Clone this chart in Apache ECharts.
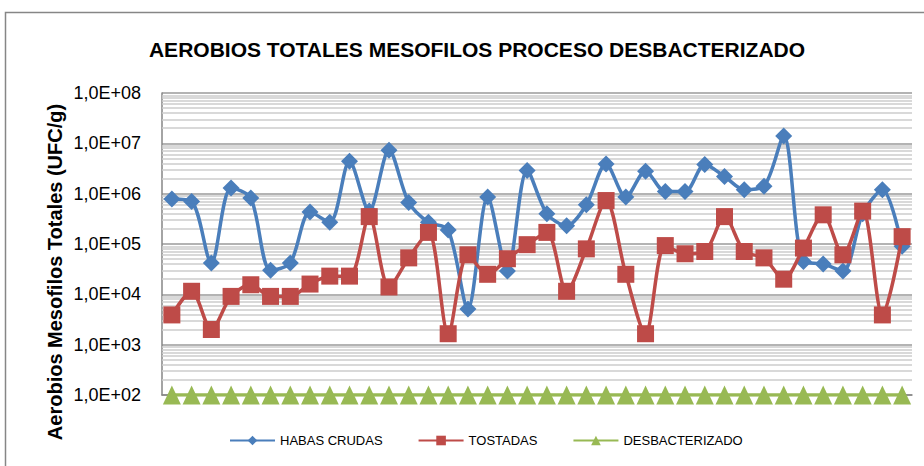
<!DOCTYPE html>
<html>
<head>
<meta charset="utf-8">
<script src="https://cdn.jsdelivr.net/npm/echarts@6/dist/echarts.min.js"></script>
<style>
  html, body { margin: 0; padding: 0; background: #fff; }
  #chart { width: 924px; height: 466px; }
</style>
</head>
<body>
<div id="chart"></div>
<script>
(function () {
  var samples = []
  for (var i = 1; i <= 38; i++) samples.push(String(i))

  var habasCrudas = [7.8e5, 7.0e5, 4.2e4, 1.3e6, 8.2e5, 3.0e4, 4.2e4, 4.3e5, 2.7e5, 4.4e6,
    4.5e5, 7.3e6, 6.7e5, 2.7e5, 1.9e5, 5.1e3, 8.6e5, 2.9e4, 2.9e6, 4.0e5,
    2.3e5, 6.0e5, 3.9e6, 8.6e5, 2.8e6, 1.1e6, 1.1e6, 3.8e6, 2.2e6, 1.2e6,
    1.4e6, 1.4e7, 4.5e4, 4.0e4, 2.9e4, 4.0e5, 1.2e6, 9.0e4]
  var tostadas = [3.9e3, 1.15e4, 2.0e3, 9.1e3, 1.55e4, 9.1e3, 9.1e3, 1.6e4, 2.3e4, 2.3e4,
    3.5e5, 1.4e4, 5.3e4, 1.7e5, 1.65e3, 6.1e4, 2.5e4, 5.1e4, 9.7e4, 1.7e5,
    1.15e4, 8.0e4, 7.3e5, 2.5e4, 1.65e3, 9.3e4, 6.4e4, 7.1e4, 3.5e5, 7.1e4,
    5.3e4, 2.0e4, 8.3e4, 3.8e5, 6.1e4, 4.5e5, 3.9e3, 1.4e5]
  var desbacterizado = samples.map(function () { return 100 })

  // minor gridlines 2..9 x 10^n, like the excel log axis
  var minorLines = []
  for (var e = 2; e < 8; e++) {
    for (var m = 2; m <= 9; m++) minorLines.push({ yAxis: m * Math.pow(10, e) })
  }

  var font = '"Liberation Sans", Arial, sans-serif'
  var myChart = echarts.init(document.getElementById('chart'), null, { renderer: 'svg' })
  var option = {
    animation: false,
    graphic: [{
      type: 'rect',
      z: -10,
      shape: { x: 5.5, y: 12.5, width: 1000, height: 1000 },
      style: { fill: '#fff', stroke: '#868686', lineWidth: 1.5 }
    }, {
      type: 'text',
      x: 55,
      y: 272,
      rotation: Math.PI / 2,
      style: {
        text: 'Aerobios Mesofilos Totales (UFC/g)',
        font: 'bold 20px ' + font,
        fill: '#000',
        align: 'center',
        verticalAlign: 'middle'
      }
    }],
    title: {
      text: 'AEROBIOS TOTALES MESOFILOS PROCESO DESBACTERIZADO',
      left: 472,
      textAlign: 'center',
      top: 34,
      textStyle: {
        fontFamily: font,
        fontWeight: 'bold',
        fontSize: 21,
        color: '#000'
      }
    },
    legend: {
      left: 224,
      top: 429,
      itemWidth: 45,
      itemHeight: 12,
      itemGap: 35,
      textStyle: {
        fontFamily: font,
        fontSize: 13,
        color: '#000'
      },
      data: ['HABAS CRUDAS', 'TOSTADAS', 'DESBACTERIZADO']
    },
    grid: { left: 162, right: 12, top: 93, bottom: 71, containLabel: false },
    xAxis: {
      type: 'category',
      data: samples,
      boundaryGap: true,
      axisLine: { lineStyle: { color: '#868686', width: 1.5 } },
      axisTick: { show: false },
      axisLabel: { show: false }
    },
    yAxis: {
      type: 'log',
      logBase: 10,
      min: 100,
      max: 1e8,
      axisLine: { show: true, lineStyle: { color: '#868686', width: 1.5 } },
      axisTick: { show: false },
      axisLabel: {
        margin: 21,
        fontFamily: font,
        fontSize: 18,
        color: '#000',
        formatter: function (v) {
          var ex = Math.round(Math.log10(v))
          return '1,0E+' + (ex < 10 ? '0' : '') + ex
        }
      },
      splitLine: { lineStyle: { color: '#9a9a9a', width: 1.5 } }
    },
    series: [{
      name: 'HABAS CRUDAS',
      type: 'line',
      data: habasCrudas,
      smooth: 0.3,
      showSymbol: true,
      showAllSymbol: true,
      symbol: 'diamond',
      symbolSize: 17,
      lineStyle: { color: '#4A7EBB', width: 3.5 },
      itemStyle: { color: '#4A7EBB' },
      z: 3
    }, {
      name: 'TOSTADAS',
      type: 'line',
      data: tostadas,
      smooth: 0.3,
      showSymbol: true,
      showAllSymbol: true,
      symbol: 'rect',
      symbolSize: 17,
      lineStyle: { color: '#BE4B48', width: 3.5 },
      itemStyle: { color: '#BE4B48' },
      z: 4
    }, {
      name: 'DESBACTERIZADO',
      type: 'line',
      data: desbacterizado,
      showSymbol: true,
      showAllSymbol: true,
      symbol: 'triangle',
      symbolSize: [18, 19],
      lineStyle: { color: '#98B954', width: 3.5 },
      itemStyle: { color: '#98B954' },
      z: 5,
      markLine: {
        silent: true,
        symbol: 'none',
        z: 1,
        label: { show: false },
        lineStyle: { color: '#cdcdcd', width: 1.5, type: 'solid' },
        data: minorLines
      }
    }]
  }
  myChart.setOption(option)
})()
</script>
</body>
</html>
